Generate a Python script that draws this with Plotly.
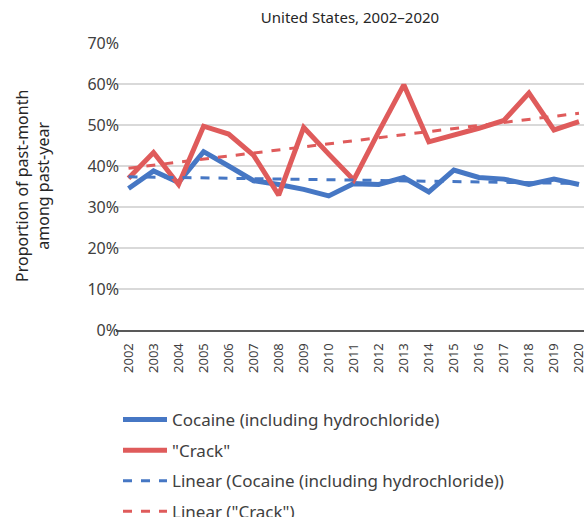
import numpy as np
import plotly.graph_objects as go

years = [str(y) for y in range(2002, 2021)]

# proportion of past-month among past-year users (%)
cocaine = [34.5, 38.8, 36.0, 43.5, 40.0, 36.4, 35.5, 34.3, 32.7, 35.7,
           35.5, 37.2, 33.7, 39.0, 37.2, 36.8, 35.5, 36.8, 35.5]
crack = [37.0, 43.3, 35.5, 49.7, 47.8, 42.6, 32.9, 49.4, 42.9, 36.6,
         48.4, 59.8, 45.9, 47.5, 49.2, 51.1, 57.8, 48.8, 50.8]

BLUE = "#4677c4"
RED = "#df5b5b"
FONT = "Noto Sans, sans-serif"

# linear trendlines (least squares, like the spreadsheet trendline)
idx = np.arange(len(years))
coc_trend = np.polyval(np.polyfit(idx, cocaine, 1), idx)
crack_trend = np.polyval(np.polyfit(idx, crack, 1), idx)

fig = go.Figure()

fig.add_trace(go.Scatter(x=years, y=cocaine, mode="lines", name="Cocaine (including hydrochloride)",
                         line=dict(color=BLUE, width=5), legendgroup="a"))
fig.add_trace(go.Scatter(x=years, y=crack, mode="lines", name='"Crack"',
                         line=dict(color=RED, width=5), legendgroup="b"))
fig.add_trace(go.Scatter(x=years, y=coc_trend, mode="lines",
                         name="Linear (Cocaine (including hydrochloride))",
                         line=dict(color=BLUE, width=3, dash="dash"), legendgroup="c"))
fig.add_trace(go.Scatter(x=years, y=crack_trend, mode="lines", name='Linear ("Crack")',
                         line=dict(color=RED, width=3, dash="dash"), legendgroup="d"))

# the figure is taller than the window so the legend fits without pushing margins
W, H = 584, 545
L, T = 116, 43
PLOT_BOTTOM = 330
PH = PLOT_BOTTOM - T
fig.update_layout(
    width=W,
    height=H,
    margin=dict(l=L, r=0, t=T, b=H - PLOT_BOTTOM),
    paper_bgcolor="white",
    plot_bgcolor="white",
    font=dict(family=FONT, size=14, color="#404040"),
    title=dict(text="United States, 2002\u20132020", x=0.5, xref="paper", y=1 - 18 / H,
               yanchor="middle", font=dict(size=15, color="#262626")),
    legend=dict(orientation="v", x=(118 - L) / (W - L), xanchor="left",
                y=(PLOT_BOTTOM - 402) / PH, yanchor="top",
                font=dict(size=17, color="#404040"), tracegroupgap=5.5,
                traceorder="grouped", itemwidth=44),
    annotations=[dict(text="Proportion of past-month<br>among past-year",
                      xref="paper", yref="paper", x=(32.5 - L) / (W - L), y=0.5,
                      xanchor="center", yanchor="middle", textangle=-90,
                      showarrow=False, font=dict(size=16, color="#262626"))],
)

fig.update_xaxes(
    type="category",
    range=[-0.5, 18.2],
    tickangle=-90,
    tickfont=dict(size=13, color="#404040"),
    ticklabelstandoff=6,
    showgrid=False,
    showline=True,
    linecolor="#595959",
    linewidth=2,
    ticks="",
    automargin=False,
)
fig.update_yaxes(
    range=[0, 70],
    dtick=10,
    ticksuffix="%",
    ticks="",
    ticklabelstandoff=-4,
    tickfont=dict(size=16, color="#404040"),
    gridcolor="#d9d9d9",
    gridwidth=1.5,
    zeroline=False,
    automargin=False,
)

fig.write_html("out.html", config={"displayModeBar": False},
               post_script="document.body.style.margin = '0'; document.body.style.overflow = 'hidden';")
